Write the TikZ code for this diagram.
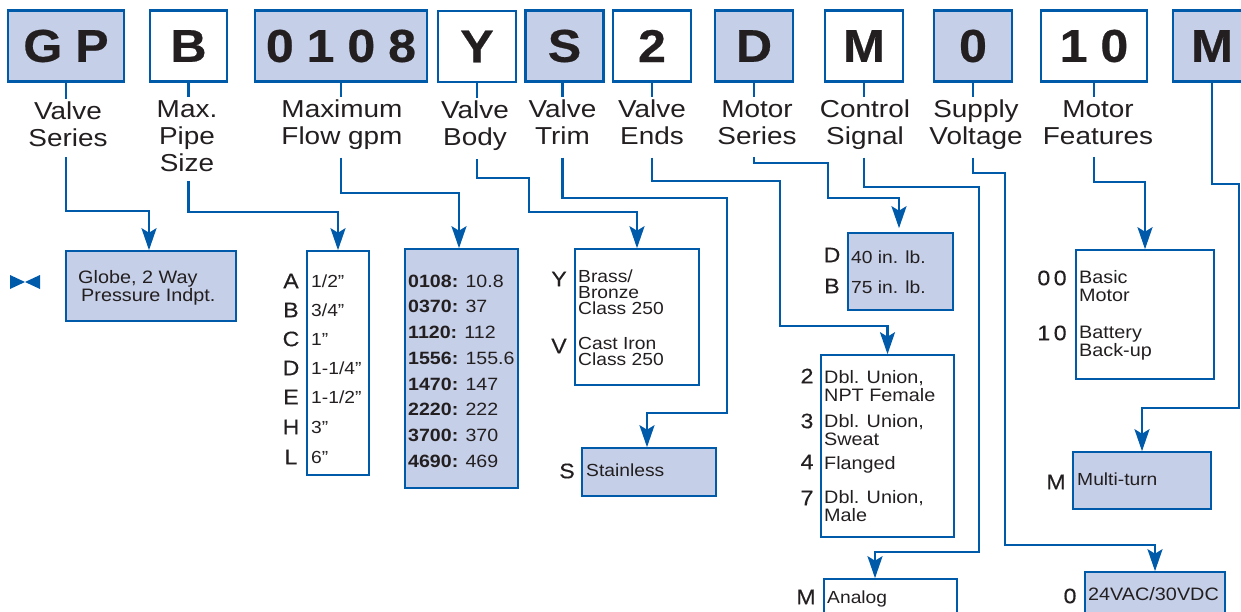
\documentclass[tikz,border=0pt]{standalone}
\usepackage{fontspec}
\setmainfont[FakeStretch=1.1]{Liberation Sans}
\newfontfamily\codefont[FakeStretch=1.09,LetterSpace=28,BoldFeatures={FakeBold=0.5}]{Liberation Sans}
\newfontfamily\lblfont[FakeStretch=1.14]{Liberation Sans}
\newfontfamily\pffont[FakeStretch=1.1,FakeBold=0.3]{Liberation Sans}
\usepackage{xcolor}
\usetikzlibrary{arrows.meta,positioning,calc}
\definecolor{rule}{RGB}{0,90,170}
\definecolor{tint}{RGB}{197,207,232}
\definecolor{ink}{RGB}{35,31,32}
\newcommand{\lbltail}[1]{\rule[-#1pt]{0pt}{0pt}}

\begin{document}
\begin{tikzpicture}[x=1pt, y=-1pt,
  cb/.style={draw=rule, line width=2.4pt, minimum height=71pt, inner sep=0pt, text=ink, font=\codefont\bfseries\fontsize{46}{46}\selectfont},
  sb/.style={draw=rule, line width=1.6pt, inner sep=0pt},
  lb/.style={anchor=north, align=center, inner xsep=0pt, inner ysep=2.5pt, text=ink, font=\lblfont\fontsize{24.5}{27}\selectfont},
  pf/.style={text=ink, inner sep=0pt, font=\pffont\fontsize{21}{21}\selectfont},
  tx/.style={anchor=west, align=left, inner sep=0pt, text=ink, font=\fontsize{17.5}{16}\selectfont},
  tw/.style={tx, font=\fontsize{18}{18}\selectfont},
  fl/.style={anchor=west, inner sep=0pt, text=ink, font=\fontsize{17.8}{20}\selectfont},
  ln/.style={draw=rule, line width=2.3pt},
  ar/.style={draw=rule, line width=2.3pt, -{Stealth[length=22pt,width=15pt,inset=4.5pt]}}
]
\useasboundingbox (0,0) rectangle (1241,612);
\clip (0,0) rectangle (1241,612);
% code boxes
\node[cb, fill=tint, minimum width=116pt] (cser) at (66,46) {GP};
\node[cb, minimum width=77pt] (csz) at (188.5,46) {B};
\node[cb, fill=tint, minimum width=172pt] (cflow) at (341,46) {0108};
\node[cb, minimum width=78pt] (cbody) at (477,46.5) {Y};
\node[cb, fill=tint, minimum width=78pt] (ctrim) at (564.5,46) {S};
\node[cb, minimum width=78pt] (cends) at (652,46) {2};
\node[cb, fill=tint, minimum width=78pt] (cmot) at (754,46) {D};
\node[cb, minimum width=78pt] (cctl) at (864,46) {M};
\node[cb, fill=tint, minimum width=78pt] (csup) at (973,46) {0};
\node[cb, minimum width=106pt] (cfea) at (1094,46) {10};
\node[cb, fill=tint, minimum width=78pt] (cturn) at (1212,46) {M};
% labels under the code
\node[lb] (lser) at (68,99) {Valve\\Series\lbltail{8}};
\node[lb] (lsz) at (187,97.5) {Max.\\Pipe\\Size\lbltail{7}};
\node[lb] (lflow) at (342,97.5) {Maximum\\Flow gpm\lbltail{10}};
\node[lb] (lbody) at (475,98) {Valve\\Body\lbltail{11}};
\node[lb] (ltrim) at (562.5,97.5) {Valve\\Trim\lbltail{10}};
\node[lb] (lends) at (652,97.5) {Valve\\Ends\lbltail{10}};
\node[lb] (lmot) at (757,97.5) {Motor\\Series\lbltail{10}};
\node[lb] (lctl) at (865,97.5) {Control\\Signal\lbltail{10}};
\node[lb] (lsup) at (976,97.5) {Supply\\Voltage\lbltail{10}};
\node[lb] (lfea) at (1098,97.5) {Motor\\Features\lbltail{10}};
% option boxes
\node[sb, fill=tint, minimum width=170pt, minimum height=70pt] (dser) at (151,286) {};
\node[sb, minimum width=62pt, minimum height=224pt] (dsz) at (338,363) {};
\node[sb, fill=tint, minimum width=113pt, minimum height=239pt] (dflow) at (461.5,368.5) {};
\node[sb, minimum width=124pt, minimum height=136pt] (dbody) at (637,317) {};
\node[sb, fill=tint, minimum width=134pt, minimum height=48pt] (dtrim) at (649,472) {};
\node[sb, minimum width=133pt, minimum height=182pt] (dends) at (887.5,446) {};
\node[sb, fill=tint, minimum width=105pt, minimum height=77pt] (dmot) at (900.5,271.5) {};
\node[sb, minimum width=133pt, minimum height=122pt] (dctl) at (890.5,640) {};
\node[sb, fill=tint, minimum width=140pt, minimum height=116pt] (dsup) at (1155,630) {};
\node[sb, minimum width=138pt, minimum height=129pt] (dfea) at (1145,314.5) {};
\node[sb, fill=tint, minimum width=138pt, minimum height=57pt] (dturn) at (1142,480.5) {};
% valve series
\fill[rule] (10,275) -- (25,282) -- (10,289) -- cycle;
\fill[rule] (40,275) -- (25,282) -- (40,289) -- cycle;
\node[tw] (tser) at (78,288) {Globe, 2 Way\\\hspace*{3pt}Pressure Indpt.};
% pipe size
\foreach \nm/\yy/\val in {A/281/{1/2”},B/310/{3/4”},C/339/{1”},D/368/{1-1/4”},E/397/{1-1/2”},H/427/{3”},L/457/{6”}}{
  \node[pf] (psz\nm) at (291,\yy) {\nm};
  \node[tx] (tsz\nm) at (311,\yy) {\val};
}
% flow
\foreach \nm/\yy/\val in {0108/281/10.8,0370/306/37,1120/332/112,1556/358/155.6,1470/384/147,2220/409/222,3700/435/370,4690/461/469}{
  \node[fl] (tfl\nm) at (408,\yy) {\textbf{\nm:} \val};
}
% body and trim
\node[pf] (pbodyY) at (559,279) {Y};
\node[tx] (tbodyY) at (578,292) {Brass/\\Bronze\\Class 250};
\node[pf] (pbodyV) at (559,346) {V};
\node[tx] (tbodyV) at (578,351) {Cast Iron\\Class 250};
\node[pf] (ptrim) at (567,471) {S};
\node[tx] (ttrim) at (586,470) {Stainless};
% ends
\node[pf] (pend2) at (807,376) {2};
\node[tw] (tend2) at (824,386) {Dbl. Union,\\NPT Female};
\node[pf] (pend3) at (807,421) {3};
\node[tw] (tend3) at (824,430) {Dbl. Union,\\Sweat};
\node[pf] (pend4) at (807,462) {4};
\node[tw] (tend4) at (824,465) {Flanged};
\node[pf] (pend7) at (807,498) {7};
\node[tw] (tend7) at (824,506) {Dbl. Union,\\Male};
% motor, signal, voltage
\node[pf] (pmotD) at (832,255) {D};
\node[tx] (tmotD) at (851,257) {40 in. lb.};
\node[pf] (pmotB) at (832,286) {B};
\node[tx] (tmotB) at (851,287) {75 in. lb.};
\node[pf] (pctl) at (806,597) {M};
\node[tx] (tctl) at (827,599) {Analog};
\node[pf] (psup) at (1070,596) {0};
\node[tw] (tsup) at (1088,594) {24VAC/30VDC};
% features and turn
\node[pf] (pfea0) at (1052,278) {0\,0};
\node[tw] (tfea0) at (1079,286) {Basic\\Motor};
\node[pf] (pfea1) at (1052,333) {1\,0};
\node[tw] (tfea1) at (1079,343) {Battery\\Back-up};
\node[pf] (pturn) at (1056,482) {M};
\node[tx] (tturn) at (1077,479) {Multi-turn};
% stubs
\foreach \cc/\ll in {cser/lser,csz/lsz,cflow/lflow,cbody/lbody,cends/lends,cmot/lmot,cctl/lctl,csup/lsup,cfea/lfea}{
  \draw[ln] (\cc.south) -- (\cc.south |- \ll.north);
}
\draw[ln] (ctrim.south -| ltrim.north) -- (ltrim.north);
% routes
\draw[ar] (cser.south |- lser.south) -- ++(0,54) -| ([xshift=-2pt]dser.north);
\draw[ar] (csz.south |- lsz.south) -- ++(0,31) -| (dsz.north);
\draw[ar] (cflow.south |- lflow.south) -- ++(0,35) -| ([xshift=-2.5pt]dflow.north);
\draw[ar] (cbody.south |- lbody.south) -- ++(0,19) -- ++(52,0) -- ++(0,34) -| (dbody.north);
\draw[ar] (ltrim.south) -- ++(0,40) -- ++(164.5,0) -- ++(0,215) -| ([xshift=-2pt]dtrim.north);
\draw[ar] (cends.south |- lends.south) -- ++(0,23) -- ++(128,0) -- ++(0,145) -| (dends.north);
\draw[ar, shorten >=4pt] (cmot.south |- lmot.south) -- ++(0,6) -- ++(74,0) -- ++(0,35) -| ([xshift=-1.5pt]dmot.north);
\draw[ar] (cctl.south |- lctl.south) -- ++(0,29) -- ++(115,0) -- ++(0,365) -| ([xshift=-15.5pt]dctl.north);
\draw[ar] (csup.south |- lsup.south) -- ++(0,15) -- ++(32,0) -- ++(0,372) -| (dsup.north);
\draw[ar] (cfea.south |- lfea.south) -- ++(0,25) -| (dfea.north);
\draw[ar] (cturn.south) -- ++(0,101) -- ++(27,0) -- ++(0,224) -| (dturn.north);
\end{tikzpicture}
\end{document}
